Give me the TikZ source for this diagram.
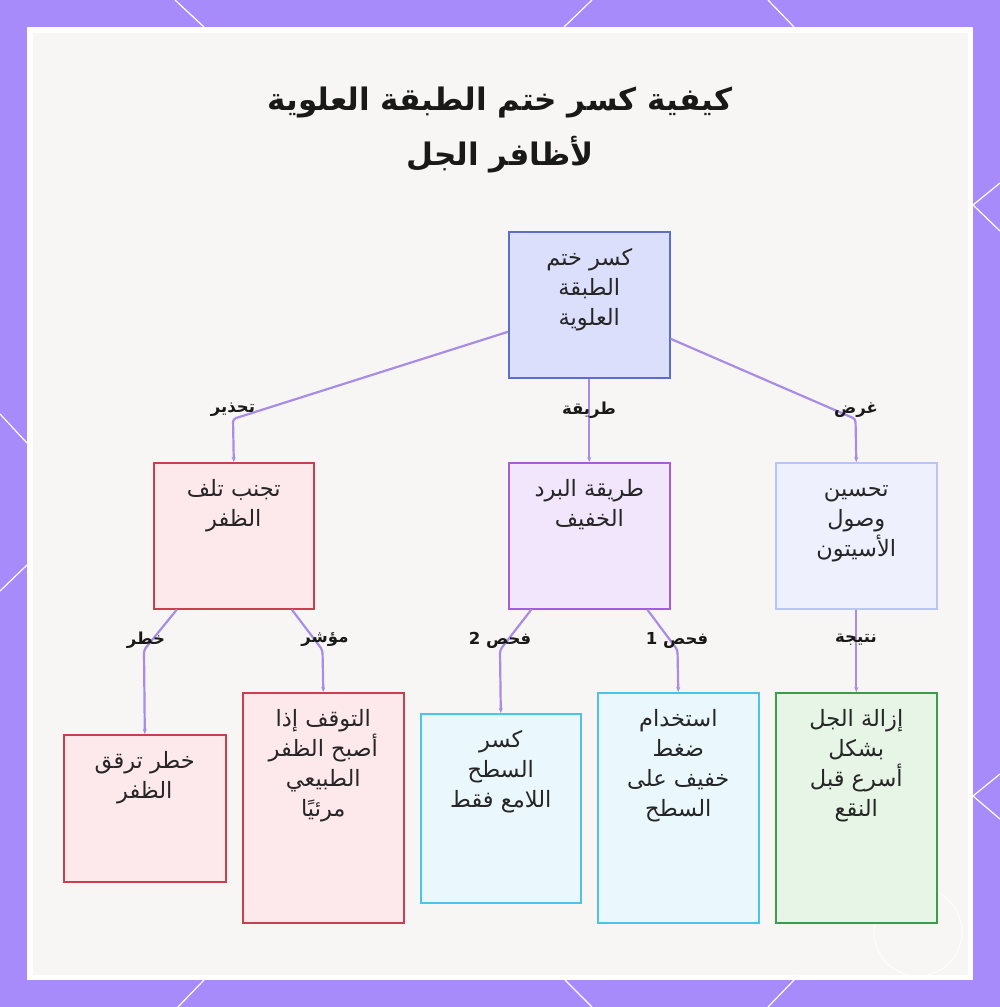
\documentclass[tikz,border=0pt]{standalone}
\usepackage{fontspec}
\setmainfont{DejaVu Sans}
\newfontfamily\arabicfont[Script=Arabic]{DejaVu Sans}
\TeXXeTstate=1
\usetikzlibrary{arrows.meta}
\newcommand\fstrut{\rule{0pt}{20pt}}
\definecolor{framec}{HTML}{A78BFA}
\definecolor{panelc}{HTML}{F7F6F4}
\definecolor{edgec}{HTML}{A98BE8}
\definecolor{rootf}{HTML}{DCDFFC}\definecolor{rootd}{HTML}{5B6FC9}
\definecolor{pinkf}{HTML}{FDE8EC}\definecolor{pinkd}{HTML}{C8404F}
\definecolor{purf}{HTML}{F2E6FD}\definecolor{purd}{HTML}{A35DE0}
\definecolor{lbf}{HTML}{EEF1FD}\definecolor{lbd}{HTML}{B9C5F5}
\definecolor{cyf}{HTML}{EAF7FD}\definecolor{cyd}{HTML}{4CC3E9}
\definecolor{grf}{HTML}{E6F5E6}\definecolor{grd}{HTML}{3A9D4A}
\tikzset{
  box/.style 2 args={draw=#2, fill=#1, line width=1.6pt, anchor=north west, inner sep=0pt},
  txt/.style={font=\arabicfont\fontsize{22.5}{30}\selectfont, align=center, anchor=north, inner sep=0pt, text=black!85},
  lbl/.style={font=\arabicfont\bfseries\fontsize{16.5}{20}\selectfont, inner sep=0pt, text=black!90},
  edge/.style={draw=edgec, line width=2.2pt, rounded corners=3pt, -{Stealth[length=5pt,width=4pt]}},
  deco/.style={draw=white, line width=1.2pt}
}
\begin{document}
\begin{tikzpicture}[x=1pt,y=-1pt]
\useasboundingbox (0,0) rectangle (1000,1007);
% frame
\fill[framec] (0,0) rectangle (1000,1007);
\draw[deco] (175,0) -- (204,27);
\draw[deco] (592,0) -- (564,27);
\draw[deco] (768,0) -- (794,27);
\draw[deco] (178,1007) -- (204,980);
\draw[deco] (592,1007) -- (565,980);
\draw[deco] (768,1007) -- (794,980);
\draw[deco] (0,414) -- (27,443);
\draw[deco] (0,591) -- (27,565);
\draw[deco] (1000,183) -- (973,205) -- (1000,231);
\draw[deco] (1000,774) -- (973,796) -- (1000,819);
\fill[white] (27,27) rectangle (973,980);
\fill[panelc] (33,33) rectangle (968,975);
\draw[white, line width=1pt, opacity=0.8] (918,932) circle (44);

% title
\node[font=\arabicfont\bfseries\fontsize{31}{55}\selectfont, align=center, text=black!90] (title) at (500,130)
  {\beginR كيفية كسر ختم الطبقة العلوية\endR\\\beginR لأظافر الجل\endR};

% level 1
\node[box={rootf}{rootd}, minimum width=161pt, minimum height=146pt] (root) at (508,231) {};
\node[txt] (roott) at ([yshift=-14pt]root.north) {\fstrut\beginR كسر ختم\endR\\\beginR الطبقة\endR\\\beginR العلوية\endR};

% level 2
\node[box={pinkf}{pinkd}, minimum width=160pt, minimum height=146pt] (lft) at (153,462) {};
\node[txt] (lftt) at ([yshift=-14pt]lft.north) {\fstrut\beginR تجنب تلف\endR\\\beginR الظفر\endR};
\node[box={purf}{purd}, minimum width=161pt, minimum height=146pt] (mid) at (508,462) {};
\node[txt] (midt) at ([yshift=-14pt]mid.north) {\fstrut\beginR طريقة البرد\endR\\\beginR الخفيف\endR};
\node[box={lbf}{lbd}, minimum width=161pt, minimum height=146pt] (rgt) at (775,462) {};
\node[txt] (rgtt) at ([yshift=-14pt]rgt.north) {\fstrut\beginR تحسين\endR\\\beginR وصول\endR\\\beginR الأسيتون\endR};

% level 3
\node[box={pinkf}{pinkd}, minimum width=162pt, minimum height=147pt] (la) at (63,734) {};
\node[txt] (lat) at ([yshift=-14pt]la.north) {\fstrut\beginR خطر ترقق\endR\\\beginR الظفر\endR};
\node[box={pinkf}{pinkd}, minimum width=161pt, minimum height=230pt] (lb) at (242,692) {};
\node[txt] (lbt) at ([yshift=-14pt]lb.north) {\fstrut\beginR التوقف إذا\endR\\\beginR أصبح الظفر\endR\\\beginR الطبيعي\endR\\\beginR مرئيًا\endR};
\node[box={cyf}{cyd}, minimum width=160pt, minimum height=189pt] (lc) at (420,713) {};
\node[txt] (lct) at ([yshift=-14pt]lc.north) {\fstrut\beginR كسر\endR\\\beginR السطح\endR\\\beginR اللامع فقط\endR};
\node[box={cyf}{cyd}, minimum width=161pt, minimum height=230pt] (ld) at (597,692) {};
\node[txt] (ldt) at ([yshift=-14pt]ld.north) {\fstrut\beginR استخدام\endR\\\beginR ضغط\endR\\\beginR خفيف على\endR\\\beginR السطح\endR};
\node[box={grf}{grd}, minimum width=161pt, minimum height=230pt] (le) at (775,692) {};
\node[txt] (let) at ([yshift=-14pt]le.north) {\fstrut\beginR إزالة الجل\endR\\\beginR بشكل\endR\\\beginR أسرع قبل\endR\\\beginR النقع\endR};

% edges level 1 -> 2
\draw[edge] ([yshift=-27pt]root.west) -- (233,419) -- (lft.north);
\draw[edge] (root.south) -- (mid.north);
\draw[edge] ([yshift=-34pt]root.east) -- (855.5,419) -- (rgt.north);
\node[lbl] (e1) at (233,410) {\beginR تحذير\endR};
\node[lbl] (e2) at (589,410) {\beginR طريقة\endR};
\node[lbl] (e3) at (856,410) {\beginR غرض\endR};

% edges level 2 -> 3
\draw[edge] ([xshift=-57pt]lft.south) -- (144,650) -- (la.north);
\draw[edge] ([xshift=58pt]lft.south) -- (322.5,650) -- (lb.north);
\draw[edge] ([xshift=-58pt]mid.south) -- (500,650) -- (lc.north);
\draw[edge] ([xshift=58pt]mid.south) -- (677.5,650) -- (ld.north);
\draw[edge] (rgt.south) -- (le.north);
\node[lbl] (f1) at (146,640) {\beginR خطر\endR};
\node[lbl] (f2) at (325,640) {\beginR مؤشر\endR};
\node[lbl] (f3) at (500,640) {\beginR فحص 2\endR};
\node[lbl] (f4) at (677,640) {\beginR فحص 1\endR};
\node[lbl] (f5) at (856,640) {\beginR نتيجة\endR};
\end{tikzpicture}
\end{document}
